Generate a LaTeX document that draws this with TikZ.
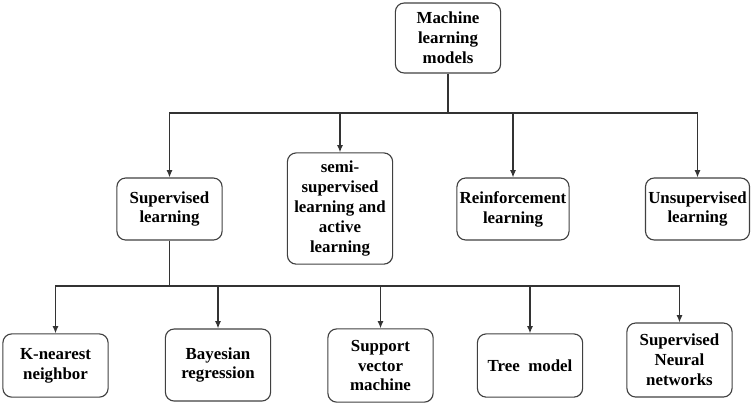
\documentclass[tikz,border=0pt]{standalone}
\usepackage{fontspec}
\setmainfont{Liberation Serif}
\usetikzlibrary{arrows.meta}
\begin{document}
\begin{tikzpicture}[
x=0.025cm, y=-0.025cm,
every node/.style={draw=black!75, line width=0.8pt, rectangle, rounded corners=0.22cm, align=center, minimum width=2.63cm, minimum height=1.55cm, inner sep=2pt, font=\fontsize{12}{14.2}\selectfont\bfseries},
arrow/.style={-{Latex[length=1.8mm,width=1.5mm]}, draw=black!80, line width=0.9pt},
line/.style={draw=black!80, line width=0.9pt}
]
\useasboundingbox (0,0) rectangle (754,403);

% root
\node (ml) [minimum height=1.75cm] at (448,38) {Machine \\ learning \\ models};

% second level
\node (sup) at (169.5,209) {Supervised \\ learning};
\node (semi) [minimum height=2.78cm] at (340,208.5) {semi- \\ supervised \\ learning and \\ active \\ learning};
\node (rein) [minimum width=2.78cm] at (513,209) {Reinforcement \\ learning};
\node (unsup) [minimum width=2.53cm] at (697.5,209) {Unsupervised \\ learning};

% third level
\node (knn) [minimum height=1.58cm] at (55.5,365.5) {K-nearest \\ neighbor};
\node (bayes) [minimum height=1.8cm] at (218,365) {Bayesian \\ regression};
\node (svm) [minimum height=1.83cm] at (380.5,365.5) {Support \\ vector \\ machine};
\node (tree) [minimum height=1.58cm] at (530,365.5) {Tree\ \ model};
\node (snn) [minimum height=1.85cm] at (679.5,360) {Supervised \\ Neural \\ networks};

\coordinate (bus1) at (448,113);
\coordinate (bus2) at (169.5,286);

\draw[line] (ml) -- (bus1);
\draw[arrow] (bus1) -| (sup);
\draw[arrow] (bus1) -| (semi);
\draw[arrow] (bus1) -| (rein);
\draw[arrow] (bus1) -| (unsup);

\draw[line] (sup) -- (bus2);
\draw[arrow] (bus2) -| (knn);
\draw[arrow] (bus2) -| (bayes);
\draw[arrow] (bus2) -| (svm);
\draw[arrow] (bus2) -| (tree);
\draw[arrow] (bus2) -| (snn);

\end{tikzpicture}
\end{document}
